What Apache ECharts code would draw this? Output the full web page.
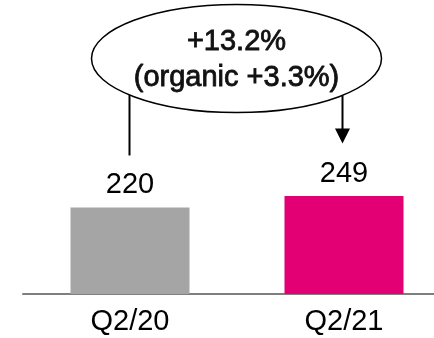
<!DOCTYPE html>
<html>
<head>
<meta charset="utf-8">
<script src="https://cdn.jsdelivr.net/npm/echarts@6/dist/echarts.min.js"></script>
<style>
html,body{margin:0;padding:0;background:#fff;}
#c{width:434px;height:338px;}
</style>
</head>
<body>
<div id="c"></div>
<script>
const categories = ['Q2/20', 'Q2/21'];
const values = [220, 249];
const annotationLines = ['+13.2%', '(organic +3.3%)'];

const FONT = '"Liberation Sans", Arial, sans-serif';
const colors = ['#a5a5a5', '#e20074'];

const chart = echarts.init(document.getElementById('c'), null, {renderer: 'canvas'});
chart.setOption({
  animation: false,
  grid: {left: 23, width: 428, top: 58, bottom: 44, containLabel: false, outerBoundsMode: 'none'},
  xAxis: {
    type: 'category',
    data: categories,
    boundaryGap: true,
    axisLine: {lineStyle: {color: '#7f7f7f', width: 2}},
    axisTick: {show: false},
    axisLabel: {color: '#000', fontSize: 29, fontFamily: FONT, margin: 13}
  },
  yAxis: {type: 'value', min: 0, max: 600, show: false, splitLine: {show: false}},
  series: [{
    type: 'bar',
    barWidth: 119,
    data: values.map((v, i) => ({value: v, itemStyle: {color: colors[i]}})),
    label: {show: true, position: 'top', distance: 8, color: '#000', fontSize: 29, fontFamily: FONT}
  }]
});

const p0 = chart.convertToPixel({seriesIndex: 0}, [0, values[0]]);
const p1 = chart.convertToPixel({seriesIndex: 0}, [1, values[1]]);
const cx = (p0[0] + p1[0]) / 2 - 0.5;
const cy = 58.5, rx = 145, ry = 54;
function ellipseBottomY(x) {
  const t = (x - cx) / rx;
  return cy + ry * Math.sqrt(Math.max(0, 1 - t * t));
}
const lx = p0[0] - 0.5, rxl = p1[0] - 1.5;
const leftEnd = p0[1] - 52;
const tipY = p1[1] - 52.5;
const txtStyle = (t) => ({text: t, fill: '#111', stroke: '#111', lineWidth: 0.8, font: '29px ' + FONT, textAlign: 'center', textVerticalAlign: 'middle'});
chart.setOption({
  graphic: [
    {type: 'ellipse', shape: {cx: cx, cy: cy, rx: rx, ry: ry}, style: {fill: '#fff', stroke: '#000', lineWidth: 1.5}, z: 10},
    {type: 'text', x: cx, y: 42, style: txtStyle(annotationLines[0]), z: 11},
    {type: 'text', x: cx, y: 78, style: txtStyle(annotationLines[1]), z: 11},
    {type: 'line', shape: {x1: lx, y1: ellipseBottomY(lx), x2: lx, y2: leftEnd}, style: {stroke: '#000', lineWidth: 2}, z: 10},
    {type: 'line', shape: {x1: rxl, y1: ellipseBottomY(rxl), x2: rxl, y2: tipY - 14}, style: {stroke: '#000', lineWidth: 2}, z: 10},
    {type: 'polygon', shape: {points: [[rxl - 7.5, tipY - 15], [rxl + 7.5, tipY - 15], [rxl, tipY]]}, style: {fill: '#000'}, z: 10}
  ]
});
</script>
</body>
</html>
